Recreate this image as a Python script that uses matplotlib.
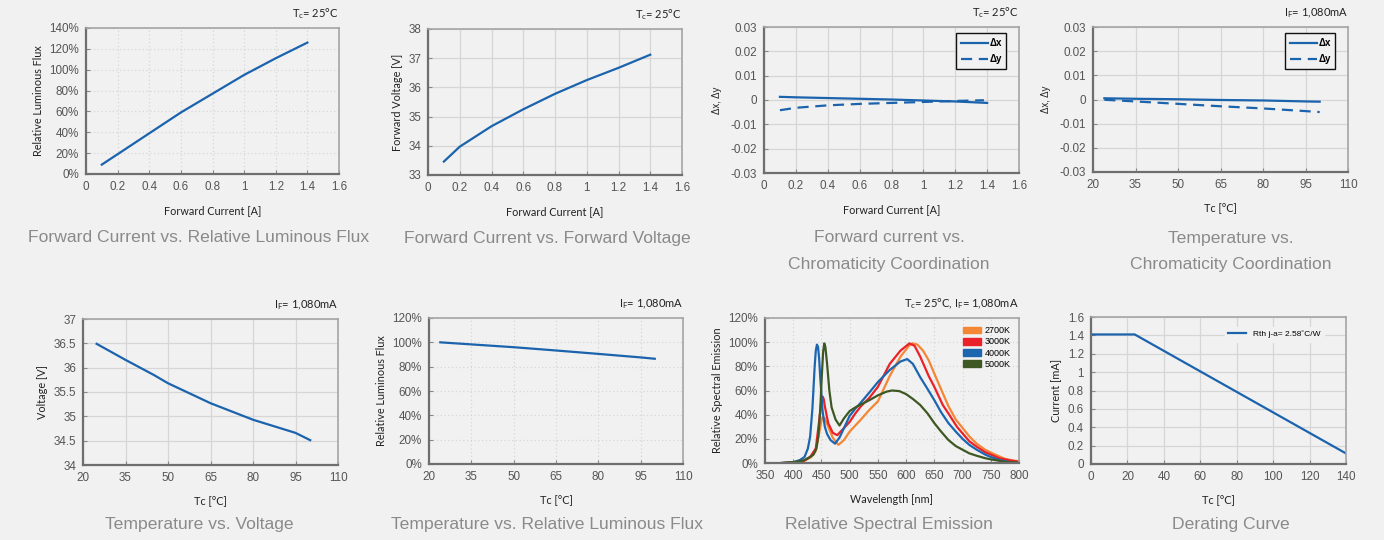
import matplotlib
matplotlib.use("Agg")
import matplotlib.pyplot as plt
from matplotlib.patches import Patch

# ---- data ----
fc_current = [0.1, 0.2, 0.4, 0.6, 0.8, 1.0, 1.2, 1.4]
fc_flux = [9, 19, 39, 59, 77, 95, 111, 126]
fc_voltage = [33.46, 33.97, 34.67, 35.25, 35.78, 36.25, 36.67, 37.12]

cc_current = [0.1, 0.2, 0.4, 0.6, 0.8, 1.0, 1.2, 1.4]
cc_dx = [0.0013, 0.0011, 0.0008, 0.0005, 0.0002, -0.0002, -0.0006, -0.0012]
cc_dy_current = [0.1, 0.2, 0.4, 0.6, 0.8, 1.0, 1.2, 1.38]
cc_dy = [-0.0042, -0.0032, -0.0022, -0.0016, -0.0012, -0.0008, -0.0004, -0.0001]

tc_temp = [24, 35, 50, 65, 80, 95, 100]
tc_dx = [0.0005, 0.0003, 0.0001, -0.0002, -0.0004, -0.0008, -0.0009]
tc_dy = [-0.0001, -0.0008, -0.0018, -0.0028, -0.0037, -0.0048, -0.0052]

tv_temp = [24.8, 35, 45, 50, 65, 80, 95, 100.2]
tv_voltage = [36.49, 36.16, 35.85, 35.68, 35.27, 34.93, 34.66, 34.51]

tf_temp = [24, 35, 50, 65, 80, 95, 100]
tf_flux = [100, 98.3, 96, 93.3, 90.5, 87.6, 86.5]

wl_2700 = [380, 400, 420, 432, 440, 446, 450, 452, 456, 462, 470, 480, 490, 500, 510, 520,
           535, 550, 571, 590, 605, 612, 620, 630, 640, 650, 662, 675, 688, 700, 712,
           725, 740, 750, 765, 775, 790, 800]
sp_2700 = [0, 0.5, 2, 5, 10, 25, 35, 38, 37, 30, 21, 15, 19, 26, 31, 36,
           44, 51, 72, 88, 97, 99, 98, 93, 85, 74, 61, 47, 36, 29, 22,
           16, 11, 8.6, 5.5, 3.5, 2, 1.5]
wl_3000 = [380, 400, 420, 430, 440, 446, 450, 452, 454, 456, 462, 470, 478, 490, 500, 510, 520,
           535, 550, 571, 590, 606, 615, 625, 640, 650, 665, 675, 690, 700, 712,
           725, 740, 750, 765, 780, 800]
sp_3000 = [0, 0.5, 2, 5, 12, 35, 52, 55, 53, 47, 33, 25, 23, 29, 34, 41, 47,
           54, 63, 82, 93, 99, 97, 88, 72, 63, 48, 41, 30, 24.5, 18,
           13.5, 9, 7, 4, 2.5, 1]
wl_4000 = [380, 400, 412, 420, 426, 430, 434, 438, 440, 442, 444, 446, 448, 452, 456, 460, 466,
           474, 482, 490, 500, 510, 518, 536, 550, 571, 590, 602, 612, 625, 637, 650,
           662, 675, 688, 700, 712, 725, 740, 750, 765, 780, 790]
sp_4000 = [0, 0.5, 2.5, 5, 12, 22, 45, 80, 93, 98, 96, 86, 70, 43, 30, 24, 19,
           16, 21, 29, 39, 45, 49, 59, 67, 77, 84, 86, 82, 71, 62, 52,
           42, 33, 26, 20, 15, 11, 7, 5, 2.5, 1, 0.3]
wl_5000 = [380, 400, 418, 430, 436, 441, 444.5, 448, 450.5, 453, 455, 457, 460, 464, 468, 475,
           482, 490, 500, 510, 518, 535, 550, 565, 575, 588, 600, 612, 625, 638, 650,
           662, 675, 688, 700, 712, 725, 740, 750, 775, 800]
sp_5000 = [0, 0.8, 2, 5, 7, 12, 22, 45, 71, 92, 99, 96, 82, 60, 46, 36,
           31, 37, 43, 46, 48, 52, 56, 59, 60, 59.5, 57, 53, 48, 41, 33,
           26, 19, 14, 11, 8, 6, 4, 3, 1, 0.3]
cct_labels = ["2700K", "3000K", "4000K", "5000K"]

der_temp = [0, 24, 140]
der_current = [1.41, 1.41, 0.115]

# tick labels
current_ticks = [0, 0.2, 0.4, 0.6, 0.8, 1.0, 1.2, 1.4, 1.6]
current_labels = ["0", "0.2", "0.4", "0.6", "0.8", "1", "1.2", "1.4", "1.6"]
temp_ticks = [20, 35, 50, 65, 80, 95, 110]
pct140_ticks = [0, 20, 40, 60, 80, 100, 120, 140]
pct120_ticks = [0, 20, 40, 60, 80, 100, 120]
fv_ticks = [33, 34, 35, 36, 37, 38]
delta_ticks = [-0.03, -0.02, -0.01, 0, 0.01, 0.02, 0.03]
delta_labels = ["-0.03", "-0.02", "-0.01", "0", "0.01", "0.02", "0.03"]
volt_ticks = [34, 34.5, 35, 35.5, 36, 36.5, 37]
volt_labels = ["34", "34.5", "35", "35.5", "36", "36.5", "37"]
wl_ticks = [350, 400, 450, 500, 550, 600, 650, 700, 750, 800]
der_xticks = [0, 20, 40, 60, 80, 100, 120, 140]
der_yticks = [0, 0.2, 0.4, 0.6, 0.8, 1.0, 1.2, 1.4, 1.6]
der_ylabels = ["0", "0.2", "0.4", "0.6", "0.8", "1", "1.2", "1.4", "1.6"]

BG = "#f1f1f1"
BLUE = "#1b63ad"
W, H = 1384, 540
TICK_FONT = "Liberation Sans"
LABEL_FONT = ["Lato", "DejaVu Sans"]

fig = plt.figure(figsize=(W / 100, H / 100), dpi=100, facecolor=BG)


def make_axes(l, t, r, b, dotted=False):
    ax = fig.add_axes([l / W, 1 - b / H, (r - l) / W, (b - t) / H])
    ax.set_facecolor(BG)
    for s in ["left", "bottom"]:
        ax.spines[s].set_color("#6e6e6e")
        ax.spines[s].set_linewidth(1.6)
    for s in ["top", "right"]:
        ax.spines[s].set_color("#a5a5a5")
        ax.spines[s].set_linewidth(1.2)
    ax.grid(True, color="#d6d6d6", linewidth=0.9, linestyle=(0, (1, 2)) if dotted else "-")
    ax.set_axisbelow(True)
    ax.tick_params(direction="in", length=3, color="#888888", labelsize=8.4,
                   labelcolor="#555555", pad=5)
    return ax


def finish(ax, xlabel, ylabel, note=None):
    ax.set_xlabel(xlabel, family=LABEL_FONT, fontsize=7.8, color="#222222", labelpad=9)
    if ylabel:
        ax.set_ylabel(ylabel, family=LABEL_FONT, fontsize=7.8, color="#222222", labelpad=4)
    for lab in ax.get_xticklabels() + ax.get_yticklabels():
        lab.set_family(TICK_FONT)
    if note:
        ax.text(1.0, 1.045, note, transform=ax.transAxes, ha="right", va="bottom",
                fontsize=8, color="#222222", family=LABEL_FONT)


def caption(x, y, txt):
    fig.text(x / W, 1 - y / H, txt, ha="center", va="center", fontsize=12.6,
             color="#8a8a8a", family=TICK_FONT)


def pct(ticks):
    return [f"{t}%" for t in ticks]


def delta_legend(ax):
    leg = ax.legend(loc="upper right", bbox_to_anchor=(0.97, 0.99), fancybox=False,
                    edgecolor="#111111", facecolor=BG, framealpha=1, handlelength=2.8,
                    handletextpad=0.1, borderpad=0.5, labelspacing=0.6,
                    prop={"family": TICK_FONT, "weight": "bold", "size": 7})
    leg.get_frame().set_linewidth(1.0)


TC = r"T$_\mathregular{c}$= 25°C"
IF = r"I$_\mathregular{F}$= 1,080mA"

# 1 forward current vs relative flux
ax = make_axes(86, 28, 339, 174, dotted=True)
ax.plot(fc_current, fc_flux, color=BLUE, lw=1.6)
ax.set_xlim(0, 1.6)
ax.set_ylim(0, 140)
ax.set_xticks(current_ticks, current_labels)
ax.set_yticks(pct140_ticks, pct(pct140_ticks))
finish(ax, "Forward Current [A]", "Relative Luminous Flux", TC)
caption(199, 238, "Forward Current vs. Relative Luminous Flux")

# 2 forward current vs voltage
ax = make_axes(428, 29, 682, 175)
ax.plot(fc_current, fc_voltage, color=BLUE, lw=1.6)
ax.set_xlim(0, 1.6)
ax.set_ylim(33, 38)
ax.set_xticks(current_ticks, current_labels)
ax.set_yticks(fv_ticks, [str(t) for t in fv_ticks])
finish(ax, "Forward Current [A]", "Forward Voltage [V]", TC)
caption(547, 238, "Forward Current vs. Forward Voltage")

# 3 forward current vs chromaticity
ax = make_axes(764, 27, 1019, 173)
ax.plot(cc_current, cc_dx, color=BLUE, lw=1.6, label="Δx")
ax.plot(cc_dy_current, cc_dy, color=BLUE, lw=1.6, ls=(0, (5, 3)), label="Δy")
ax.set_xlim(0, 1.6)
ax.set_ylim(-0.03, 0.03)
ax.set_xticks(current_ticks, current_labels)
ax.set_yticks(delta_ticks, delta_labels)
delta_legend(ax)
finish(ax, "Forward Current [A]", None, TC)
ax.set_ylabel("Δx, Δy", family=TICK_FONT, fontsize=7, color="#222222", labelpad=6)
caption(889, 238, "Forward current vs.")
caption(889, 265, "Chromaticity Coordination")

# 4 temperature vs chromaticity
ax = make_axes(1093, 27, 1348, 172)
ax.plot(tc_temp, tc_dx, color=BLUE, lw=1.6, label="Δx")
ax.plot(tc_temp, tc_dy, color=BLUE, lw=1.6, ls=(0, (5, 3)), label="Δy")
ax.set_xlim(20, 110)
ax.set_ylim(-0.03, 0.03)
ax.set_xticks(temp_ticks, [str(t) for t in temp_ticks])
ax.set_yticks(delta_ticks, delta_labels)
delta_legend(ax)
finish(ax, "Tc [°C]", None, IF)
ax.set_ylabel("Δx, Δy", family=TICK_FONT, fontsize=7, color="#222222", labelpad=6)
caption(1231, 238, "Temperature vs.")
caption(1231, 265, "Chromaticity Coordination")

# 5 temperature vs voltage
ax = make_axes(83, 319, 338, 465)
ax.plot(tv_temp, tv_voltage, color=BLUE, lw=1.6)
ax.set_xlim(20, 110)
ax.set_ylim(34, 37)
ax.set_xticks(temp_ticks, [str(t) for t in temp_ticks])
ax.set_yticks(volt_ticks, volt_labels)
finish(ax, "Tc [°C]", "Voltage [V]", IF)
caption(199, 524, "Temperature vs. Voltage")

# 6 temperature vs relative flux
ax = make_axes(429, 318, 683, 464, dotted=True)
ax.plot(tf_temp, tf_flux, color=BLUE, lw=1.6)
ax.set_xlim(20, 110)
ax.set_ylim(0, 120)
ax.set_xticks(temp_ticks, [str(t) for t in temp_ticks])
ax.set_yticks(pct120_ticks, pct(pct120_ticks))
finish(ax, "Tc [°C]", "Relative Luminous Flux", IF)
caption(547, 524, "Temperature vs. Relative Luminous Flux")

# 7 relative spectral emission
ax = make_axes(765, 318, 1019, 463, dotted=True)
spec_colors = ["#f58634", "#ea2128", "#1c66b0", "#3e5823"]
spectra = [(wl_2700, sp_2700), (wl_3000, sp_3000), (wl_4000, sp_4000), (wl_5000, sp_5000)]
for (wl, sp), c in zip(spectra, spec_colors):
    ax.plot(wl, sp, color=c, lw=1.6, solid_joinstyle="round")
ax.set_xlim(350, 800)
ax.set_ylim(0, 120)
ax.set_xticks(wl_ticks, [str(t) for t in wl_ticks])
ax.set_yticks(pct120_ticks, pct(pct120_ticks))
handles = [Patch(color=c) for c in spec_colors]
ax.legend(handles, cct_labels, loc="upper right", bbox_to_anchor=(1.0, 1.0), frameon=False,
          handlelength=2.0, handleheight=0.8, handletextpad=0.4, labelspacing=0.25,
          prop={"family": TICK_FONT, "size": 6.5})
finish(ax, "Wavelength [nm]", "Relative Spectral Emission",
       r"T$_\mathregular{c}$= 25°C, I$_\mathregular{F}$= 1,080mA")
caption(889, 524, "Relative Spectral Emission")

# 8 derating curve
ax = make_axes(1091, 317, 1346, 464)
ax.plot(der_temp, der_current, color=BLUE, lw=1.6, label="Rth j-a= 2.58˚C/W")
ax.set_xlim(0, 140)
ax.set_ylim(0, 1.6)
ax.set_xticks(der_xticks, [str(t) for t in der_xticks])
ax.set_yticks(der_yticks, der_ylabels)
ax.legend(loc="upper right", bbox_to_anchor=(0.93, 0.96), frameon=True, fancybox=False,
          edgecolor=BG, facecolor=BG, framealpha=1, handlelength=2.2,
          prop={"family": TICK_FONT, "size": 6})
finish(ax, "Tc [°C]", "Current [mA]")
caption(1231, 524, "Derating Curve")

fig.savefig("out.png", dpi=100, facecolor=BG)
